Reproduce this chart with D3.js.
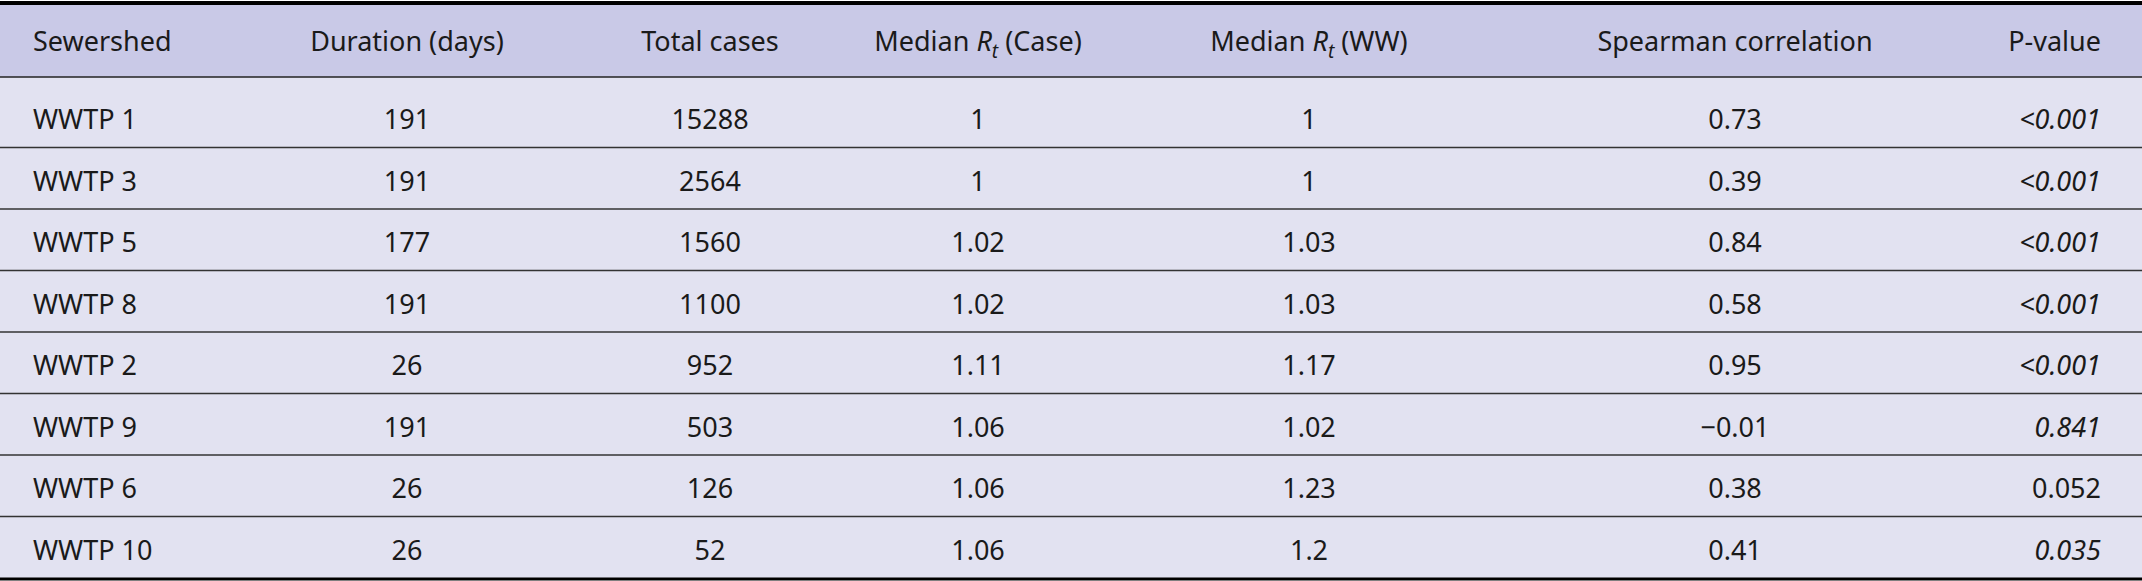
<!DOCTYPE html>
<html>
<head>
<meta charset="utf-8">
<script src="https://cdn.jsdelivr.net/npm/d3@7"></script>
<style>
  body { margin: 0; background: #fff; }
  text { font-family: "Noto Sans", sans-serif; fill: #1a1a1a; }
</style>
</head>
<body>
<svg id="tbl"></svg>
<script>
// table data
const sewersheds = ["WWTP 1", "WWTP 3", "WWTP 5", "WWTP 8", "WWTP 2", "WWTP 9", "WWTP 6", "WWTP 10"];
const durations = [191, 191, 177, 191, 26, 191, 26, 26];
const totalCases = [15288, 2564, 1560, 1100, 952, 503, 126, 52];
const medianRtCase = ["1", "1", "1.02", "1.02", "1.11", "1.06", "1.06", "1.06"];
const medianRtWW = ["1", "1", "1.03", "1.03", "1.17", "1.02", "1.23", "1.2"];
const spearman = ["0.73", "0.39", "0.84", "0.58", "0.95", "\u22120.01", "0.38", "0.41"];
const pValues = ["<0.001", "<0.001", "<0.001", "<0.001", "<0.001", "0.841", "0.052", "0.035"];
const pItalic = [true, true, true, true, true, true, false, true];

const W = 2142, H = 581;
const headerTop = 5, headerBottom = 77, bodyTop = 86, bodyBottom = 578;
const FS = 27;

// column layout: x anchor and alignment
const cols = [
  { x: 33, anchor: "start" },
  { x: 407, anchor: "middle" },
  { x: 710, anchor: "middle" },
  { x: 978, anchor: "middle" },
  { x: 1309, anchor: "middle" },
  { x: 1735, anchor: "middle" },
  { x: 2101, anchor: "end" }
];

const svg = d3.select("#tbl").attr("width", W).attr("height", H);

const y = d3.scaleBand()
  .domain(d3.range(sewersheds.length))
  .range([bodyTop, bodyBottom]);

// backgrounds
svg.append("rect").attr("x", 0).attr("y", headerTop).attr("width", W)
  .attr("height", headerBottom - headerTop).attr("fill", "#c9c9e7");
svg.append("rect").attr("x", 0).attr("y", headerBottom).attr("width", W)
  .attr("height", bodyBottom - headerBottom).attr("fill", "#e2e2f1");

// header
const hdr = svg.append("g").attr("font-size", FS);
const headerCells = [
  ["Sewershed"], ["Duration (days)"], ["Total cases"],
  ["Median ", "R", "t", " (Case)"], ["Median ", "R", "t", " (WW)"],
  ["Spearman correlation"], ["P-value"]
];
headerCells.forEach((parts, i) => {
  const t = hdr.append("text").attr("x", cols[i].x).attr("y", 42)
    .attr("dy", "0.35em").attr("text-anchor", cols[i].anchor);
  if (parts.length === 1) { t.text(parts[0]); return; }
  t.append("tspan").text(parts[0]);
  t.append("tspan").attr("font-style", "italic").text(parts[1]);
  t.append("tspan").attr("font-style", "italic").attr("font-size", 19).attr("dy", 7).text(parts[2]);
  t.append("tspan").attr("dy", -7).text(parts[3]);
});

// body rows
const rows = svg.append("g").attr("font-size", FS)
  .selectAll("g").data(sewersheds).join("g")
  .attr("transform", (d, i) => `translate(0,${y(i) + y.bandwidth() / 2 + (i === 0 ? 3 : 3)})`);

const cellValues = (i) => [sewersheds[i], durations[i], totalCases[i], medianRtCase[i], medianRtWW[i], spearman[i], pValues[i]];

rows.each(function(d, i) {
  const g = d3.select(this);
  cellValues(i).forEach((v, c) => {
    g.append("text").attr("x", cols[c].x).attr("dy", "0.35em")
      .attr("text-anchor", cols[c].anchor)
      .attr("font-style", c === 6 && pItalic[i] ? "italic" : "normal")
      .text(v);
  });
});

// rules
svg.append("line").attr("x1", 0).attr("x2", W).attr("y1", 3).attr("y2", 3)
  .attr("stroke", "#000").attr("stroke-width", 4);
svg.append("line").attr("x1", 0).attr("x2", W).attr("y1", headerBottom).attr("y2", headerBottom)
  .attr("stroke", "#222").attr("stroke-width", 1.5);
svg.selectAll("line.sep").data(d3.range(1, sewersheds.length)).join("line")
  .attr("class", "sep")
  .attr("x1", 0).attr("x2", W)
  .attr("y1", d => y(d)).attr("y2", d => y(d))
  .attr("stroke", "#333").attr("stroke-width", 1.5);
svg.append("line").attr("x1", 0).attr("x2", W).attr("y1", bodyBottom + 1).attr("y2", bodyBottom + 1)
  .attr("stroke", "#000").attr("stroke-width", 3);
</script>
</body>
</html>
